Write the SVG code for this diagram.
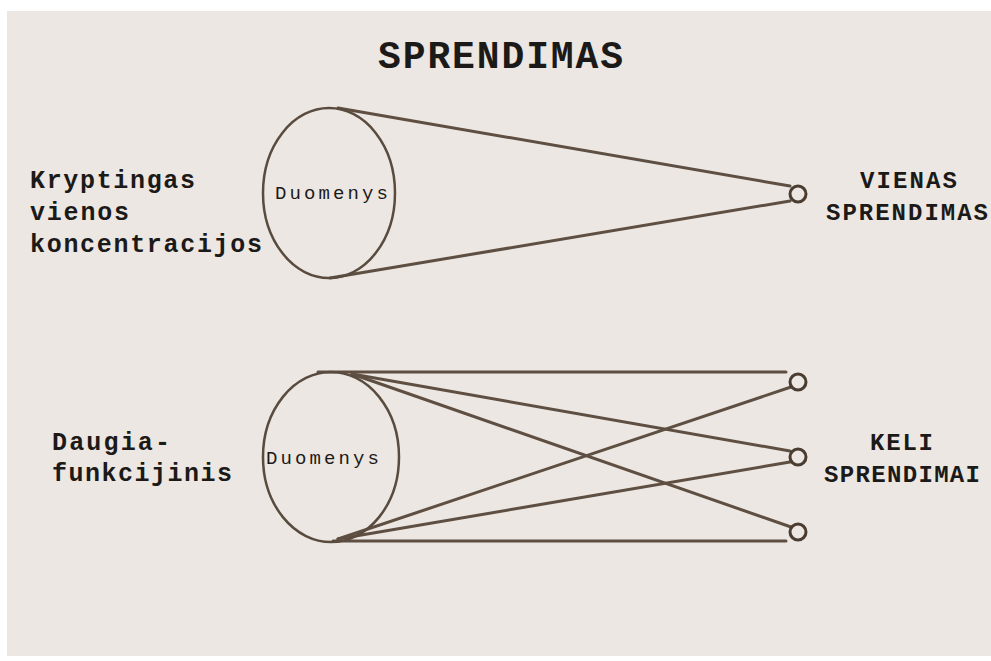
<svg xmlns="http://www.w3.org/2000/svg" width="991" height="661" viewBox="0 0 991 661">
<style>
.ln{stroke:#5e4f42;stroke-width:3;fill:none;stroke-linecap:round}
.el{stroke:#5a4b3f;stroke-width:2.5;fill:none}
.sc{stroke:#4a3c30;stroke-width:3;fill:#ece7e2}
.t{font-family:"Liberation Mono","Courier New",monospace;fill:#1c1a18;font-weight:bold}
.d{font-family:"Liberation Mono","Courier New",monospace;fill:#1c1a18;font-size:19px}
</style>
<rect width="991" height="661" fill="#ffffff"/>
<rect x="7" y="11" width="984" height="645" fill="#ece7e2"/>
<text class="t" x="378" y="68" font-size="38" textLength="245" lengthAdjust="spacing">SPRENDIMAS</text>
<g id="connectors">
<line class="ln" x1="338" y1="108" x2="790" y2="186"/>
<line class="ln" x1="330" y1="278" x2="790" y2="201"/>
<line class="ln" x1="318" y1="372" x2="786" y2="372"/>
<line class="ln" x1="333" y1="541" x2="786" y2="541"/>
<line class="ln" x1="352" y1="374" x2="790" y2="451"/>
<line class="ln" x1="352" y1="374" x2="791" y2="527"/>
<line class="ln" x1="338" y1="539" x2="791" y2="387"/>
<line class="ln" x1="338" y1="539" x2="790" y2="462"/>
</g>
<g id="data-top">
<ellipse class="el" cx="329" cy="193" rx="66" ry="85"/>
<text class="d" x="275" y="199" textLength="113" lengthAdjust="spacing">Duomenys</text>
</g>
<g id="data-bottom">
<ellipse class="el" cx="331" cy="457" rx="68" ry="85"/>
<text class="d" x="266" y="464" textLength="113" lengthAdjust="spacing">Duomenys</text>
</g>
<g id="solution-one">
<circle class="sc" cx="798" cy="194" r="8"/>
</g>
<g id="solution-1"><circle class="sc" cx="798" cy="382" r="8"/></g>
<g id="solution-2"><circle class="sc" cx="798" cy="457" r="8"/></g>
<g id="solution-3"><circle class="sc" cx="798" cy="532" r="8"/></g>
<g id="label-left-top">
<text class="t" x="30" y="188" font-size="25" textLength="165" lengthAdjust="spacing">Kryptingas</text>
<text class="t" x="30" y="220" font-size="25" textLength="99" lengthAdjust="spacing">vienos</text>
<text class="t" x="30" y="252" font-size="25" textLength="232" lengthAdjust="spacing">koncentracijos</text>
</g>
<g id="label-left-bottom">
<text class="t" x="52" y="450" font-size="25" textLength="118" lengthAdjust="spacing">Daugia-</text>
<text class="t" x="52" y="481" font-size="25" textLength="180" lengthAdjust="spacing">funkcijinis</text>
</g>
<g id="label-right-top">
<text class="t" x="860" y="188" font-size="24" textLength="97" lengthAdjust="spacing">VIENAS</text>
<text class="t" x="826" y="220" font-size="24" textLength="162" lengthAdjust="spacing">SPRENDIMAS</text>
</g>
<g id="label-right-bottom">
<text class="t" x="870" y="450" font-size="24" textLength="63" lengthAdjust="spacing">KELI</text>
<text class="t" x="824" y="482" font-size="24" textLength="156" lengthAdjust="spacing">SPRENDIMAI</text>
</g>
</svg>
